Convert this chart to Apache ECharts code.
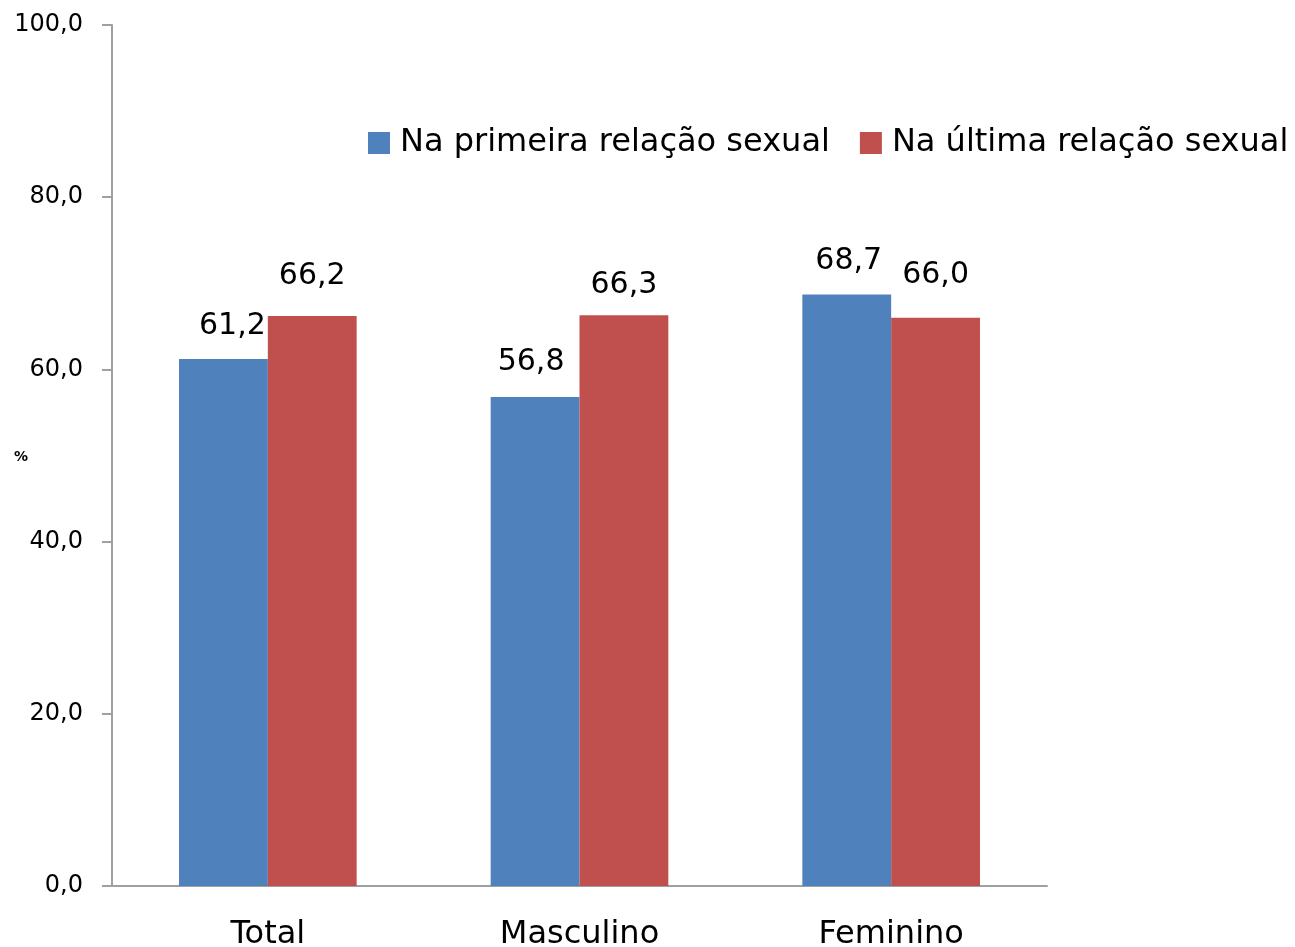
<!DOCTYPE html>
<html><head><meta charset="utf-8">
<script src="https://cdn.jsdelivr.net/npm/echarts@6/dist/echarts.min.js"></script>
<style>html,body{margin:0;padding:0;background:#fff}#c{width:1295px;height:947px}</style>
</head><body><div id="c"></div>
<script>
const categories = ['Total', 'Masculino', 'Feminino'];
const seriesNames = ['Na primeira relação sexual', 'Na última relação sexual'];
const primeira = [61.2, 56.8, 68.7];
const ultima = [66.2, 66.3, 66.0];
const yTicks = [0, 20, 40, 60, 80, 100];

const fmt = v => v.toFixed(1).replace('.', ',');
const FONT = '"DejaVu Sans", Verdana, sans-serif';

// small per-label nudges to mimic the original label placement
const shiftPrimeira = [[9, 0], [-4, -2], [2, 0]];
const shiftUltima = [[0, -3], [0, 7], [0, -6]];

const mk = (vals, shifts) => vals.map((v, i) => ({value: v, label: {offset: shifts[i]}}));

const chart = echarts.init(document.getElementById('c'), null, {renderer: 'canvas'});
chart.setOption({
  animation: false,
  backgroundColor: '#ffffff',
  textStyle: {fontFamily: FONT},
  grid: {left: 112, right: 248, top: 25, bottom: 61, containLabel: false, outerBoundsMode: 'none'},
  legend: {
    top: 122, left: 363,
    itemWidth: 22, itemHeight: 22, itemGap: 30,
    icon: 'rect',
    textStyle: {fontSize: 32, color: '#000', fontFamily: FONT, padding: [0, 0, 0, 5]},
    data: seriesNames
  },
  graphic: [{
    type: 'text', left: 14, top: 450,
    style: {text: '%', fontSize: 14, fontWeight: 'bold', fill: '#000', fontFamily: FONT}
  }],
  xAxis: {
    type: 'category', data: categories,
    axisLine: {lineStyle: {color: '#a0a0a0', width: 2}},
    axisTick: {show: false},
    axisLabel: {fontSize: 32, color: '#000', margin: 33, fontFamily: FONT}
  },
  yAxis: {
    type: 'value', min: yTicks[0], max: yTicks[yTicks.length - 1], interval: 20,
    axisLine: {show: true, lineStyle: {color: '#a0a0a0', width: 2}},
    axisTick: {show: true, length: 10, lineStyle: {color: '#a0a0a0', width: 2}},
    splitLine: {show: false},
    axisLabel: {fontSize: 24, color: '#000', margin: 29, fontFamily: FONT, formatter: v => fmt(v)}
  },
  series: [
    {
      name: seriesNames[0], type: 'bar', data: mk(primeira, shiftPrimeira),
      barGap: '0%', barCategoryGap: '43%',
      itemStyle: {color: '#4f81bd'},
      label: {show: true, position: 'top', distance: 18, fontSize: 30, color: '#000', fontFamily: FONT, formatter: p => fmt(p.value)}
    },
    {
      name: seriesNames[1], type: 'bar', data: mk(ultima, shiftUltima),
      barGap: '0%', barCategoryGap: '43%',
      itemStyle: {color: '#c0504d'},
      label: {show: true, position: 'top', distance: 22, fontSize: 30, color: '#000', fontFamily: FONT, formatter: p => fmt(p.value)}
    }
  ]
});
</script></body></html>
